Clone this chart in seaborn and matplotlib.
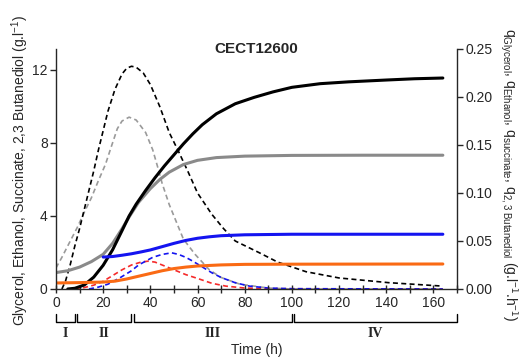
import matplotlib
matplotlib.use("Agg")
import matplotlib.pyplot as plt
import matplotlib.transforms as mtransforms
import seaborn as sns
import numpy as np

# ---- data ----
t_ethanol = [5, 8, 12, 16, 20, 24, 28, 31, 34, 38, 42, 46, 50, 54, 58, 62, 68, 76, 84, 92, 100, 112, 124, 140, 152, 164]
ethanol = [0.0, 0.04, 0.22, 0.65, 1.3, 2.15, 3.2, 4.0, 4.65, 5.4, 6.1, 6.75, 7.35, 7.95, 8.5, 9.0, 9.6, 10.15, 10.5, 10.8, 11.05, 11.25, 11.35, 11.45, 11.52, 11.56]

t_glycerol = [0, 5, 10, 15, 20, 24, 28, 31, 35, 40, 44, 48, 54, 60, 68, 80, 100, 130, 164]
glycerol = [0.9, 1.0, 1.2, 1.5, 1.9, 2.5, 3.3, 3.95, 4.75, 5.5, 6.0, 6.4, 6.82, 7.05, 7.2, 7.28, 7.32, 7.33, 7.33]

t_succinate = [20, 24, 28, 32, 36, 40, 45, 50, 55, 60, 65, 70, 80, 100, 130, 164]
succinate = [1.75, 1.78, 1.85, 1.93, 2.03, 2.14, 2.32, 2.5, 2.66, 2.78, 2.86, 2.92, 2.97, 3.0, 3.0, 3.0]

t_butanediol = [0, 10, 20, 25, 30, 35, 40, 45, 50, 55, 60, 70, 80, 100, 164]
butanediol = [0.33, 0.35, 0.38, 0.43, 0.55, 0.7, 0.85, 1.0, 1.12, 1.2, 1.26, 1.32, 1.35, 1.36, 1.37]

t_q_ethanol = [2.5, 4, 6, 8, 10, 12, 14, 16, 18, 20, 22, 25, 28, 30, 32, 34, 37, 40, 44, 48, 52, 56, 60, 66, 71, 76, 86, 94, 106, 120, 141, 164]
q_ethanol = [0.0, 0.008, 0.025, 0.045, 0.063, 0.083, 0.103, 0.123, 0.145, 0.165, 0.185, 0.208, 0.224, 0.23, 0.232, 0.231, 0.225, 0.213, 0.19, 0.163, 0.143, 0.122, 0.1, 0.078, 0.063, 0.05, 0.038, 0.028, 0.018, 0.0115, 0.0066, 0.003]

t_q_glycerol = [0, 2.5, 5, 9, 12, 15, 18, 21, 23, 26, 28, 31, 34, 38, 41, 43, 45, 48, 51, 54, 59, 65, 70, 78, 90, 100, 164]
q_glycerol = [0.022, 0.033, 0.045, 0.064, 0.08, 0.095, 0.113, 0.13, 0.145, 0.167, 0.175, 0.179, 0.176, 0.163, 0.145, 0.128, 0.11, 0.088, 0.07, 0.052, 0.036, 0.02, 0.012, 0.005, 0.001, 0.0, 0.0]

t_q_succinate = [14, 18, 22, 27, 32, 35, 41, 45, 49, 52, 55, 58, 62, 66, 70, 76, 82, 90, 100, 164]
q_succinate = [0.0, 0.002, 0.005, 0.0115, 0.019, 0.025, 0.033, 0.036, 0.0377, 0.036, 0.033, 0.029, 0.023, 0.017, 0.012, 0.0065, 0.003, 0.001, 0.0003, 0.0]

t_q_butanediol = [8, 12, 16, 20, 24, 28, 32, 36, 39, 42, 46, 50, 55, 60, 66, 72, 80, 90, 164]
q_butanediol = [0.0, 0.0015, 0.004, 0.008, 0.014, 0.02, 0.025, 0.028, 0.029, 0.028, 0.024, 0.02, 0.015, 0.011, 0.006, 0.003, 0.001, 0.0003, 0.0]

phase_bounds = [(0, 8), (9, 32), (33, 100), (101, 170)]
phase_labels = ["I", "II", "III", "IV"]
x_ticks = [0, 20, 40, 60, 80, 100, 120, 140, 160]
y_left_ticks = [0, 4, 8, 12]
y_right_ticks = [0.0, 0.05, 0.10, 0.15, 0.20, 0.25]

# ---- style ----
sns.set_style("ticks")
plt.rcParams["font.family"] = ["Liberation Sans", "DejaVu Sans"]
plt.rcParams["mathtext.fontset"] = "custom"
plt.rcParams["mathtext.rm"] = "Liberation Sans"
plt.rcParams["mathtext.it"] = "Liberation Sans:italic"
plt.rcParams["mathtext.bf"] = "Liberation Sans:bold"

fig = plt.figure(figsize=(5.19, 3.63), dpi=100)
ax = fig.add_axes([56 / 519, 1 - 289 / 363, 401 / 519, 240 / 363])
ax2 = ax.twinx()

GRAY = "#8a8a8a"
GRAY_D = "#9a9a9a"
BLUE = "#1414f0"
ORANGE = "#fa6a14"
RED = "#f52a2a"

solid_lw = 2.2
dash_lw = 1.2
dash = (3, 2)

# rates (right axis)
sns.lineplot(x=t_q_glycerol, y=q_glycerol, ax=ax2, color=GRAY_D, linewidth=dash_lw)
sns.lineplot(x=t_q_ethanol, y=q_ethanol, ax=ax2, color="black", linewidth=dash_lw)
sns.lineplot(x=t_q_butanediol, y=q_butanediol, ax=ax2, color=RED, linewidth=dash_lw)
sns.lineplot(x=t_q_succinate, y=q_succinate, ax=ax2, color=BLUE, linewidth=dash_lw)
for ln in ax2.get_lines():
    ln.set_dashes(dash)

# concentrations (left axis)
sns.lineplot(x=t_glycerol, y=glycerol, ax=ax, color=GRAY, linewidth=solid_lw)
sns.lineplot(x=t_ethanol, y=ethanol, ax=ax, color="black", linewidth=solid_lw)
sns.lineplot(x=t_succinate, y=succinate, ax=ax, color=BLUE, linewidth=solid_lw)
sns.lineplot(x=t_butanediol, y=butanediol, ax=ax, color=ORANGE, linewidth=solid_lw)

ax.set_zorder(ax2.get_zorder() + 1)
ax.patch.set_visible(False)

ax.set_xlim(0, 170)
ax.set_ylim(0, 13.15)
ax2.set_ylim(0, 0.25)

ax.set_xticks(x_ticks)
ax.set_xticks(np.arange(10, 171, 20), minor=True)
ax.set_yticks(y_left_ticks)
ax2.set_yticks(y_right_ticks)
ax2.set_yticklabels([f"{v:.2f}" for v in y_right_ticks])

for a in (ax, ax2):
    a.spines["top"].set_visible(False)
    for s in a.spines.values():
        s.set_linewidth(1.0)
ax.spines["right"].set_visible(False)
ax2.spines["left"].set_visible(False)
ax2.spines["bottom"].set_visible(False)

ax.tick_params(axis="x", which="major", direction="inout", length=6, width=1.0, labelsize=10, pad=2)
ax.tick_params(axis="x", which="minor", direction="inout", length=6, width=1.0)
ax.tick_params(axis="y", direction="out", length=4, width=1.0, labelsize=10, pad=2)
ax2.tick_params(axis="y", direction="out", length=4, width=1.0, labelsize=10, pad=2)

ax.set_xlabel("")
ax.set_ylabel("")
ax2.set_ylabel("")

# title
ax.text(0.5, 1.0, "CECT12600", transform=ax.transAxes, ha="center", va="center",
        fontsize=11, fontweight="bold")

# phase brackets
trans = mtransforms.blended_transform_factory(ax.transData, ax.transAxes)
y_base = -0.1375
y_top = -0.105
for (a, b), lab in zip(phase_bounds, phase_labels):
    ax.plot([a, a, b, b], [y_top, y_base, y_base, y_top], color="black", lw=1.0,
            transform=trans, clip_on=False)
    ax.text((a + b) / 2, -0.185, lab, transform=trans, ha="center", va="center",
            fontsize=10, fontweight="bold", family=["Liberation Serif", "DejaVu Serif"])

fig.text(0.5 * (56 + 457) / 519, 1 - 350 / 363, "Time (h)", ha="center", va="center", fontsize=10)

fig.text(20 / 519, 1 - 170 / 363, "Glycerol, Ethanol, Succinate, 2,3 Butanediol (g.l$^{-1}$)",
         rotation=90, ha="center", va="center", fontsize=10)
fig.text(509 / 519, 1 - 175 / 363,
         r"q$_{\mathrm{Glycerol}}$, q$_{\mathrm{Ethanol}}$, q$_{\mathrm{succinate}}$, "
         r"q$_{\mathrm{2,3\ Butanediol}}$ (g.l$^{-1}$.h$^{-1}$)",
         rotation=270, ha="center", va="center", fontsize=10)

fig.savefig("out.png", dpi=100)
